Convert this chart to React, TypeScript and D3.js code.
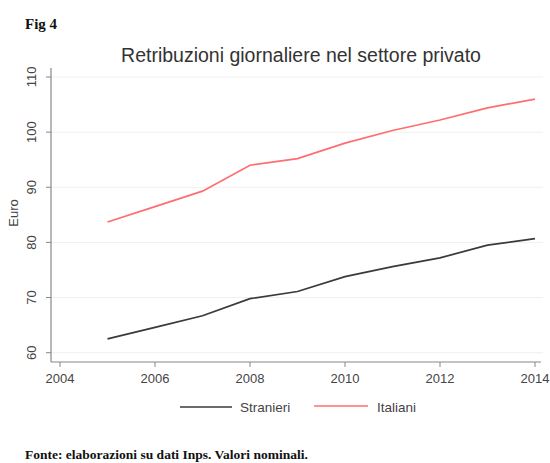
import React from "react";
import * as d3 from "d3";

const years = [2005, 2006, 2007, 2008, 2009, 2010, 2011, 2012, 2013, 2014];
const stranieri = [62.5, 64.6, 66.7, 69.8, 71.1, 73.8, 75.6, 77.2, 79.5, 80.7];
const italiani = [83.7, 86.5, 89.3, 94.0, 95.2, 98.0, 100.3, 102.2, 104.4, 106.0];
const xTicks = [2004, 2006, 2008, 2010, 2012, 2014];
const yTicks = [60, 70, 80, 90, 100, 110];

export default function App() {
  const W = 550, H = 463;
  const x = d3.scaleLinear().domain([2004, 2014]).range([60, 535]);
  const y = d3.scaleLinear().domain([60, 110]).range([352.7, 77]);
  const line = d3
    .line<number>()
    .x((_, i) => x(years[i]))
    .y((d) => y(d))
    .curve(d3.curveLinear);
  const sans = "'Liberation Sans', Arial, Helvetica, sans-serif";
  const serif = "'Liberation Serif', 'Times New Roman', serif";
  return (
    <svg width={W} height={H} style={{ position: "absolute", left: 0, top: 0 }}>
      <rect width={W} height={H} fill="#fff" />
      <text x={25} y={29} fontFamily={serif} fontWeight="bold" fontSize={15} fill="#111">
        Fig 4
      </text>
      <text x={301} y={62} textAnchor="middle" fontFamily={sans} fontSize={19.5} fill="#333">
        Retribuzioni giornaliere nel settore privato
      </text>
      {yTicks.map((t) => (
        <g key={t}>
          <line x1={51} x2={543} y1={y(t)} y2={y(t)} stroke="#f0f0f0" strokeWidth={1} />
          <line x1={46} x2={51} y1={y(t)} y2={y(t)} stroke="#888" strokeWidth={1} />
          <text
            transform={`translate(36,${y(t)}) rotate(-90)`}
            textAnchor="middle"
            fontFamily={sans}
            fontSize={13}
            fill="#444"
          >
            {t}
          </text>
        </g>
      ))}
      <line x1={51} x2={51} y1={68} y2={362} stroke="#888" strokeWidth={1.2} />
      <line x1={51} x2={541} y1={362} y2={362} stroke="#888" strokeWidth={1.2} />
      {xTicks.map((t) => (
        <g key={t}>
          <line x1={x(t)} x2={x(t)} y1={362} y2={367} stroke="#888" strokeWidth={1} />
          <text x={x(t)} y={383} textAnchor="middle" fontFamily={sans} fontSize={13} fill="#444">
            {t}
          </text>
        </g>
      ))}
      <text
        transform={`translate(18,213) rotate(-90)`}
        textAnchor="middle"
        fontFamily={sans}
        fontSize={13}
        fill="#444"
      >
        Euro
      </text>
      <path d={line(stranieri) || ""} fill="none" stroke="#3a3a3a" strokeWidth={1.7} />
      <path d={line(italiani) || ""} fill="none" stroke="#ff6e6e" strokeWidth={1.7} />
      <line x1={180} x2={232} y1={407} y2={407} stroke="#3a3a3a" strokeWidth={1.7} />
      <text x={240} y={412} fontFamily={sans} fontSize={13.5} fill="#444">
        Stranieri
      </text>
      <line x1={314} x2={368} y1={406} y2={406} stroke="#ff6e6e" strokeWidth={1.7} />
      <text x={377} y={412} fontFamily={sans} fontSize={13.5} fill="#444">
        Italiani
      </text>
      <text x={25} y={459} fontFamily={serif} fontWeight="bold" fontSize={13.5} fill="#111">
        Fonte: elaborazioni su dati Inps. Valori nominali.
      </text>
    </svg>
  );
}
